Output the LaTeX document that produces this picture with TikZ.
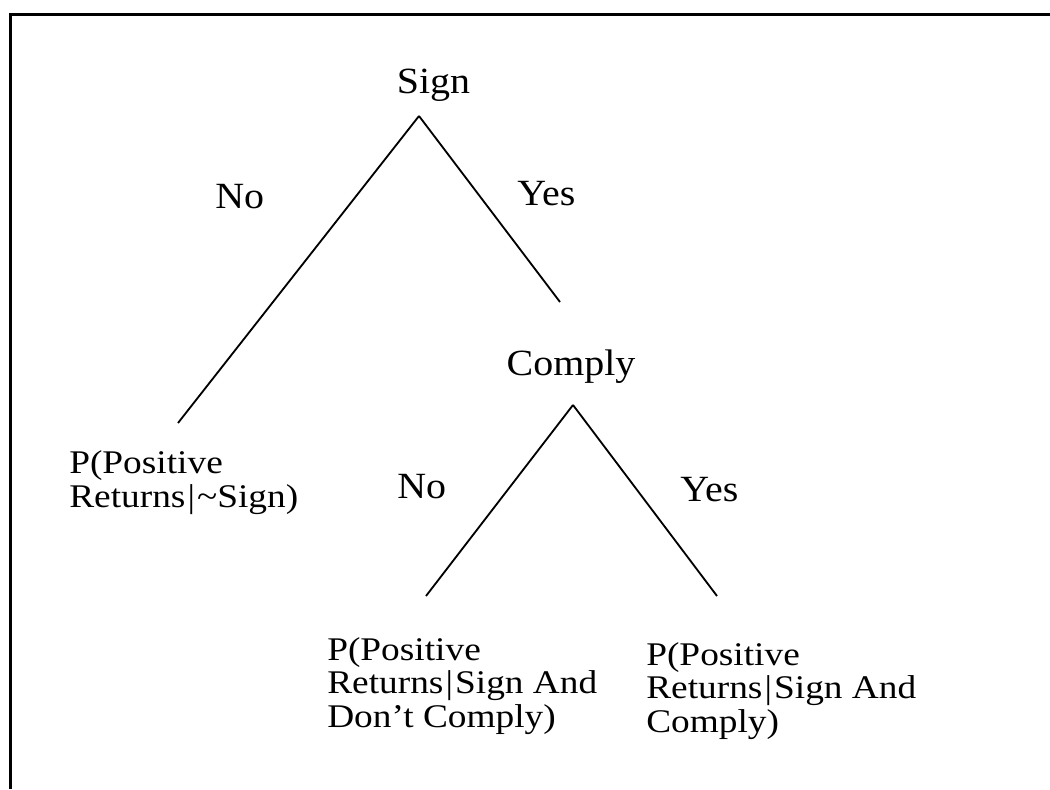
\documentclass[tikz,border=0pt]{standalone}
\usepackage{fontspec}
\setmainfont{Liberation Serif}
\newfontfamily\labelfont{Liberation Serif}[FakeStretch=1.08]
\newfontfamily\leaffont{Liberation Serif}[FakeStretch=1.13]
\newcommand{\given}{\kern1.5pt|\kern1.5pt}
\usetikzlibrary{positioning}

\begin{document}
\begin{tikzpicture}[
  x=0.025cm, y=-0.025cm,
  lbl/.style={inner sep=0pt, font=\labelfont\fontsize{26.3}{30}\selectfont},
  leaf/.style={inner sep=0pt, anchor=base west, align=left,
    font=\leaffont\fontsize{23.5}{23.5}\selectfont},
  branch/.style={draw=black, line width=1.3pt},
  frame/.style={draw=black, line width=2.4pt}
]
\useasboundingbox (0,0) rectangle (1050,789);

% frame (top and left edge only)
\draw[frame] (1050,14.3) -- (10.7,14.3) -- (10.7,789);

% decision nodes
\node[lbl, anchor=base] (sign) at (433.5,93) {Sign};
\node[lbl, anchor=base] (comply) at (571,375) {Comply};

% branch ends
\coordinate (signtop) at (419,116);
\coordinate (signno) at (178,423);
\coordinate (signyes) at (560,302);
\coordinate (complytop) at (573,405);
\coordinate (complyno) at (426,596);
\coordinate (complyyes) at (717,596);

\draw[branch] (signtop) -- (signno);
\draw[branch] (signtop) -- (signyes);
\draw[branch] (complytop) -- (complyno);
\draw[branch] (complytop) -- (complyyes);

% branch labels
\node[lbl, anchor=base west] (no1) at (215,208) {No};
\node[lbl, anchor=base west] (yes1) at (517,205) {Yes};
\node[lbl, anchor=base west] (no2) at (397,498) {No};
\node[lbl, anchor=base west] (yes2) at (680,501) {Yes};

% outcomes (base = last line)
\node[leaf] (notsign) at (69,507) {P(Positive\\Returns\given\textasciitilde Sign)};
\node[leaf] (nocomply) at (327,727) {P(Positive\\Returns\given Sign And\\Don’t Comply)};
\node[leaf] (docomply) at (646,732) {P(Positive\\Returns\given Sign And\\Comply)};
\end{tikzpicture}
\end{document}
